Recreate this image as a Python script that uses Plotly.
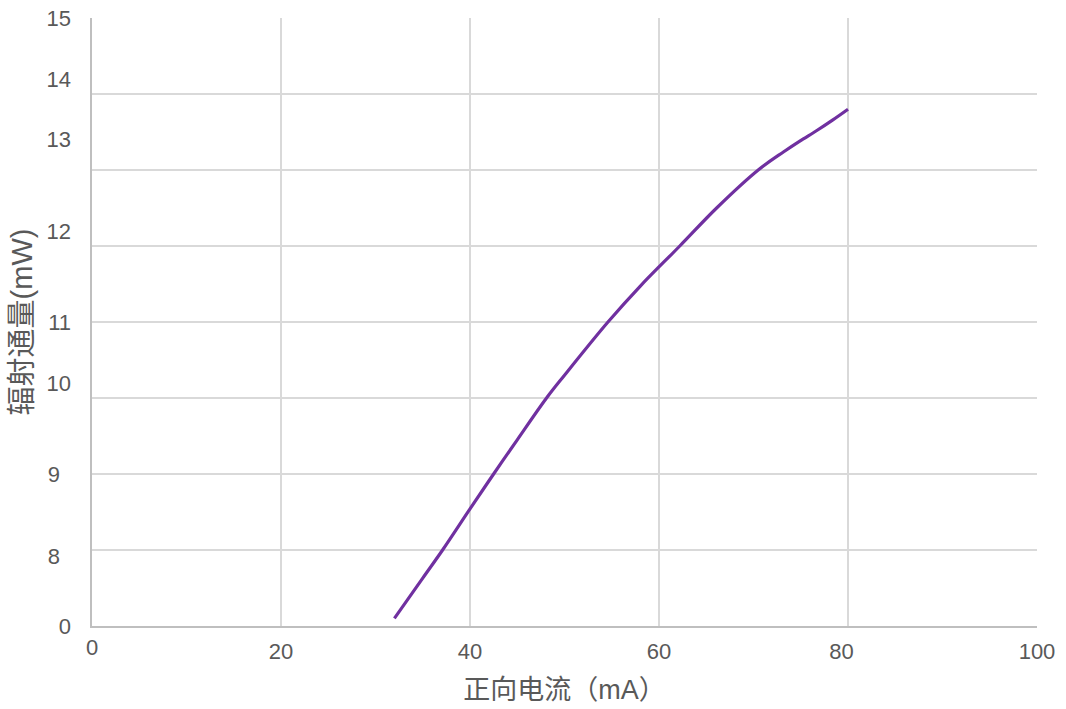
import plotly.graph_objects as go

# ---- data ----
current_mA = [32, 35, 37.1, 40, 42.5, 45, 48.1, 50, 54.6, 58, 62.2, 66.1, 70.5, 73.2, 74.9, 76.7, 78.4, 80]
flux_mW = [7.1, 7.63, 8.0, 8.54, 9.0, 9.45, 10.0, 10.3, 11.0, 11.47, 12.0, 12.5, 13.0, 13.24, 13.38, 13.52, 13.66, 13.8]

# y axis is broken: bottom tick "0", then 8..15 on equal steps
y_label_pos_wide = [0.0, 3.2, 4.0, 5.2, 6.4, 7.2, 8.0]      # where labels 0,10..15 sit
y_label_text_wide = ["0", "10", "11", "12", "13", "14", "15"]
y_label_pos_narrow = [0.92, 2.0]
y_label_text_narrow = ["8", "9"]
BREAK_OFFSET = 7  # value v (mW) is drawn at position v - 7

x_ticks = [0, 20, 40, 60, 80, 100]
x_label_pos = [20, 40, 60, 79.3, 100]
x_label_text = ["20", "40", "60", "80", "100"]

y_pos = [v - BREAK_OFFSET for v in flux_mW]

FONT = "Arial, Liberation Sans, Noto Sans CJK SC, sans-serif"
TXT = "#595959"
GRID = "#d9d9d9"

fig = go.Figure()
fig.add_trace(go.Scatter(x=current_mA, y=y_pos, mode="lines",
                         line=dict(color="#7030A0", width=3.2, shape="spline", smoothing=1.0),
                         showlegend=False, hoverinfo="skip"))
# invisible traces to activate overlay axes
fig.add_trace(go.Scatter(x=[None], y=[None], xaxis="x2", yaxis="y2", showlegend=False))
fig.add_trace(go.Scatter(x=[None], y=[None], xaxis="x3", yaxis="y3", showlegend=False))

common = dict(automargin=False, zeroline=False, ticks="", ticklabeloverflow="allow")
fig.update_layout(
    width=1066, height=709,
    margin=dict(l=92, r=29, t=18, b=83),
    paper_bgcolor="white", plot_bgcolor="white",
    font=dict(family=FONT, color=TXT, size=22),
    xaxis=dict(range=[0, 100], tickvals=x_ticks, showticklabels=False, showgrid=True,
               gridcolor=GRID, gridwidth=1.5, showline=True,
               linecolor="#bfbfbf", linewidth=1.5,
               title=dict(text="正向电流（mA）", font=dict(size=27, color=TXT), standoff=53),
               **common),
    yaxis=dict(range=[0, 8], tickvals=list(range(9)), showticklabels=False, showgrid=True,
               gridcolor=GRID, gridwidth=1.5, showline=True,
               linecolor="#bfbfbf", linewidth=1.5,
               title=dict(text="辐射通量(mW)", font=dict(size=29, color=TXT), standoff=49),
               **common),
    xaxis2=dict(range=[0, 100], overlaying="x", anchor="y", side="bottom",
                tickvals=x_label_pos, ticktext=x_label_text, showgrid=False,
                showline=False, ticklabelstandoff=10, **common),
    xaxis3=dict(range=[0, 100], overlaying="x", anchor="y", side="bottom",
                tickvals=[0], ticktext=["0"], showgrid=False,
                showline=False, ticklabelstandoff=6, **common),
    yaxis2=dict(range=[0, 8.001], overlaying="y", anchor="x", side="left",
                tickvals=y_label_pos_wide, ticktext=y_label_text_wide, showgrid=False,
                showline=False, ticklabelstandoff=20, **common),
    yaxis3=dict(range=[0, 8], overlaying="y", anchor="x", side="left",
                tickvals=y_label_pos_narrow, ticktext=y_label_text_narrow, showgrid=False,
                showline=False, ticklabelstandoff=31, **common),
)

# remove the browser's default 8px body margin so the figure fills the window
fig.write_html("out.html", config={"displayModeBar": False},
               post_script="document.body.style.margin='0';")
